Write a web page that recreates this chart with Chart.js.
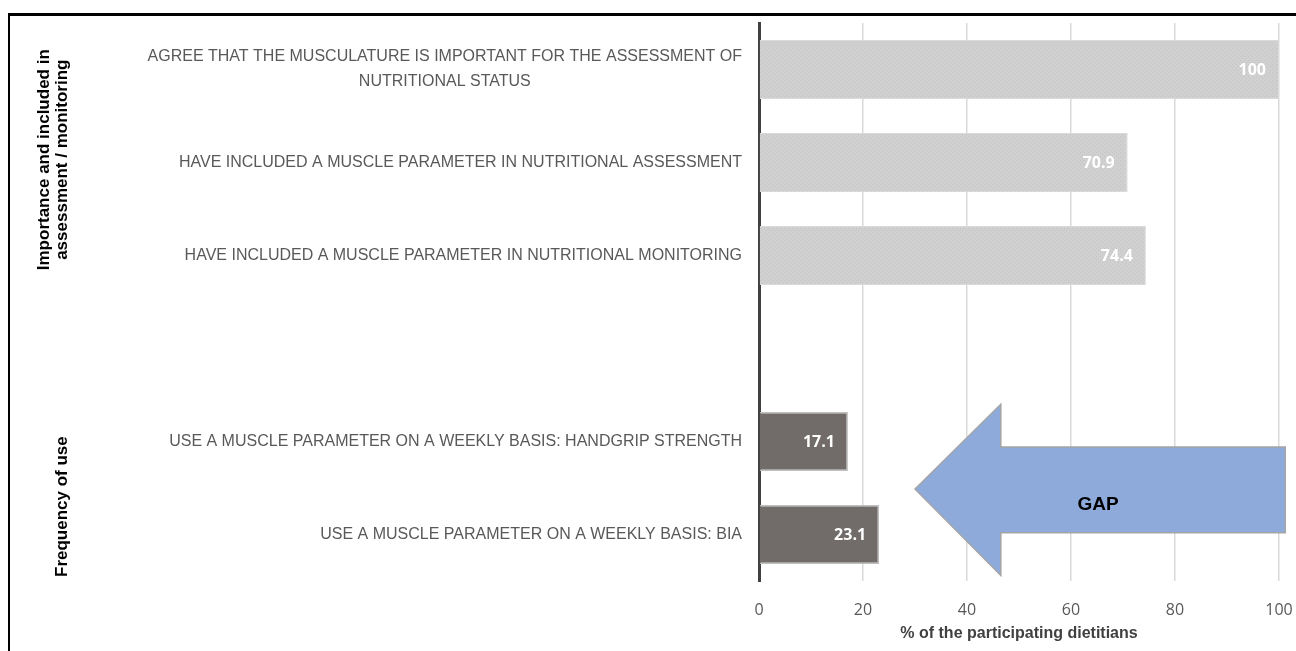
<!DOCTYPE html>
<html>
<head>
<meta charset="utf-8">
<script src="https://cdn.jsdelivr.net/npm/chart.js@4/dist/chart.umd.min.js"></script>
<style>
  html, body { margin: 0; padding: 0; background: #fff; overflow: hidden; }
  #frame {
    position: absolute; left: 8px; top: 13px; width: 1400px; height: 800px;
    border-left: 2px solid #000; border-top: 3px solid #000;
  }
  #wrap { position: absolute; left: 0; top: 0; width: 1296px; height: 651px; }
</style>
</head>
<body>
<div id="frame"></div>
<div id="wrap"><canvas id="chart" width="1296" height="651"></canvas></div>
<script>
// category labels (one entry per bar slot, the 4th slot is the gap between groups)
var categories = [
  ['AGREE THAT THE MUSCULATURE IS IMPORTANT FOR THE ASSESSMENT OF', 'NUTRITIONAL STATUS'],
  ['HAVE INCLUDED A MUSCLE PARAMETER IN NUTRITIONAL ASSESSMENT'],
  ['HAVE INCLUDED A MUSCLE PARAMETER IN NUTRITIONAL MONITORING'],
  [''],
  ['USE A MUSCLE PARAMETER ON A WEEKLY BASIS: HANDGRIP STRENGTH'],
  ['USE A MUSCLE PARAMETER ON A WEEKLY BASIS: BIA']
];
var importanceValues = [100, 70.9, 74.4, null, null, null];
var frequencyValues = [null, null, null, null, 17.1, 23.1];
var xTicks = [0, 20, 40, 60, 80, 100];
var groupLabels = [
  { text: ['Importance and included in', 'assessment / monitoring'], at: 0.97 },
  { text: ['Frequency of use'], at: 4.7 }
];
var axisTitle = '% of the participating dietitians';
var gapText = 'GAP';

var canvas = document.getElementById('chart');
var ctx = canvas.getContext('2d');

// light grey bars have a fine dotted fill in the original
function dotPattern(base, dot) {
  var c = document.createElement('canvas');
  c.width = 4; c.height = 4;
  var g = c.getContext('2d');
  g.fillStyle = base; g.fillRect(0, 0, 4, 4);
  g.fillStyle = dot; g.fillRect(0, 0, 1, 1); g.fillRect(2, 2, 1, 1);
  return ctx.createPattern(c, 'repeat');
}

var labelsPlugin = {
  id: 'sideLabels',
  afterDraw: function(chart) {
    var c = chart.ctx, ys = chart.scales.y, area = chart.chartArea;
    c.save();
    // category labels, each block centred on its widest line
    c.font = '16px "Liberation Sans"';
    c.fillStyle = '#595959';
    c.textBaseline = 'middle';
    c.textAlign = 'center';
    categories.forEach(function(lines, i) {
      var y = ys.getPixelForValue(i);
      var widest = Math.max.apply(null, lines.map(function(l) { return c.measureText(l).width; }));
      var cx = area.left - 17 - widest / 2;
      lines.forEach(function(l, k) {
        c.fillText(l, cx, y + (k - (lines.length - 1) / 2) * 25);
      });
    });
    // rotated group labels
    c.font = 'bold 17px "Liberation Sans"';
    c.fillStyle = '#000';
    groupLabels.forEach(function(g) {
      var y = ys.getPixelForValue(g.at);
      var n = g.text.length;
      g.text.forEach(function(t, k) {
        c.save();
        c.translate(62 - (n - 1 - k) * 18, y);
        c.rotate(-Math.PI / 2);
        c.fillText(t, 0, 0);
        c.restore();
      });
    });
    c.restore();
  }
};

var valuesPlugin = {
  id: 'barValues',
  afterDatasetsDraw: function(chart) {
    var c = chart.ctx;
    c.save();
    c.font = 'bold 16px "Open Sans"';
    c.fillStyle = '#fff';
    c.textAlign = 'right';
    c.textBaseline = 'middle';
    chart.data.datasets.forEach(function(ds, di) {
      chart.getDatasetMeta(di).data.forEach(function(el, i) {
        var v = ds.data[i];
        if (v === null) return;
        c.fillText(String(v), el.x - 13, el.y + 1);
      });
    });
    c.restore();
  }
};

// the blue "GAP" block arrow, placed in data units
var gapArrow = { tip: 30, neck: 46.5, tail: 101.2, headTop: 3.6, bodyTop: 4.06, mid: 4.51, bodyBottom: 4.98, headBottom: 5.44 };

var arrowPlugin = {
  id: 'gapArrow',
  afterDatasetsDraw: function(chart) {
    var c = chart.ctx, xs = chart.scales.x, ys = chart.scales.y, a = gapArrow;
    var X = function(v) { return xs.getPixelForValue(v); };
    var Y = function(v) { return ys.getPixelForValue(v); };
    c.save();
    c.beginPath();
    c.moveTo(X(a.tip), Y(a.mid));
    c.lineTo(X(a.neck), Y(a.headTop));
    c.lineTo(X(a.neck), Y(a.bodyTop));
    c.lineTo(X(a.tail), Y(a.bodyTop));
    c.lineTo(X(a.tail), Y(a.bodyBottom));
    c.lineTo(X(a.neck), Y(a.bodyBottom));
    c.lineTo(X(a.neck), Y(a.headBottom));
    c.closePath();
    c.fillStyle = '#8eaadb';
    c.fill();
    c.strokeStyle = '#a5a5a5';
    c.lineWidth = 1.5;
    c.stroke();
    c.font = 'bold 19px "Liberation Sans"';
    c.fillStyle = '#000';
    c.textAlign = 'center';
    c.textBaseline = 'middle';
    c.fillText(gapText, X(65.2), Y(4.68));
    c.restore();
  }
};

new Chart(ctx, {
  type: 'bar',
  data: {
    labels: categories.map(function(l) { return l.join(' '); }),
    datasets: [
      {
        data: importanceValues,
        backgroundColor: dotPattern('#d0d0d0', '#c3c3c3'),
        borderColor: '#dadada',
        borderWidth: 1,
        categoryPercentage: 1,
        barPercentage: 0.635
      },
      {
        data: frequencyValues,
        backgroundColor: '#716c6a',
        borderColor: '#bfbfbf',
        borderWidth: 1.5,
        categoryPercentage: 1,
        barPercentage: 0.635
      }
    ]
  },
  options: {
    indexAxis: 'y',
    responsive: false,
    animation: false,
    devicePixelRatio: 1,
    layout: { padding: { top: 23, right: 17, left: 0, bottom: 0 } },
    plugins: { legend: { display: false }, tooltip: { enabled: false } },
    scales: {
      y: {
        stacked: true,
        offset: true,
        grid: { display: false },
        border: { display: true, color: '#404040', width: 3 },
        ticks: { display: false },
        afterFit: function(s) { s.width = 759; }
      },
      x: {
        stacked: true,
        min: 0,
        max: 100,
        afterBuildTicks: function(s) { s.ticks = xTicks.map(function(v) { return { value: v }; }); },
        grid: { color: '#d9d9d9', lineWidth: 1.5, drawTicks: false },
        border: { display: false },
        ticks: { color: '#595959', font: { family: 'Open Sans', size: 16 }, padding: 20 },
        title: {
          display: true,
          text: axisTitle,
          color: '#404040',
          font: { family: 'Liberation Sans', size: 16, weight: 'bold' },
          padding: { top: 0, bottom: 8 }
        },
        afterFit: function(s) { s.height = 70; s.paddingLeft = 0; s.paddingRight = 0; }
      }
    }
  },
  plugins: [labelsPlugin, valuesPlugin, arrowPlugin]
});
</script>
</body>
</html>
